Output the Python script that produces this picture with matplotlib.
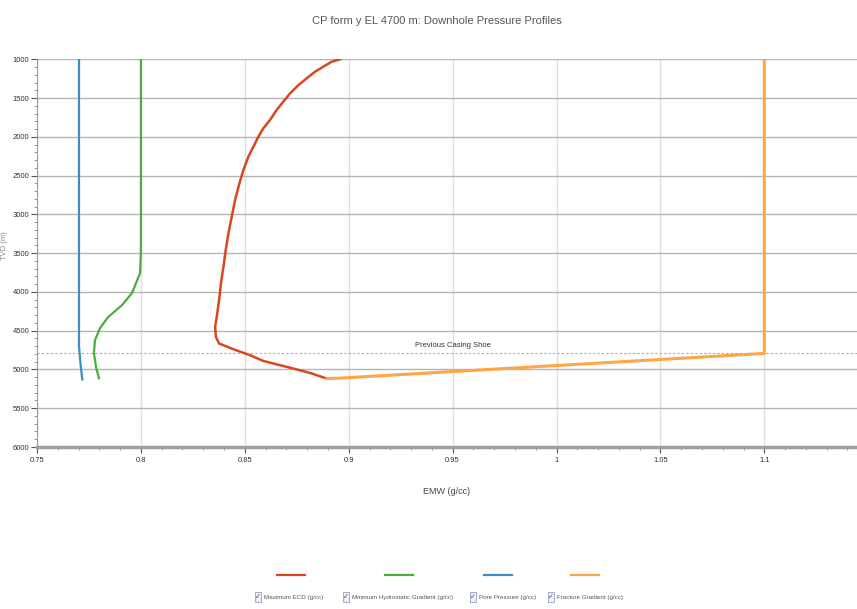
import matplotlib
matplotlib.use("Agg")
from matplotlib import pyplot as plt
from matplotlib.lines import Line2D
from matplotlib.patches import Rectangle
from matplotlib.ticker import MultipleLocator

plt.rcParams["font.family"] = ["Liberation Sans", "DejaVu Sans"]

# depth (m) / gradient (g/cc)
ecdDepth = [1000, 1031, 1095, 1160, 1245, 1332, 1439, 1547, 1654, 1783,
            1891, 1999, 2128, 2257, 2429, 2600, 2816, 3031, 3246, 3461,
            3677, 3891, 4107, 4322, 4451, 4580, 4665, 4739, 4816, 4890,
            4945, 4988, 5045, 5117]
ecdValue = [0.8958, 0.8918, 0.8878, 0.8838, 0.8798, 0.8758, 0.8718, 0.8685,
            0.8653, 0.8621, 0.8589, 0.8565, 0.8541, 0.8517, 0.8493, 0.8474,
            0.8453, 0.8437, 0.8421, 0.8408, 0.8397, 0.8385, 0.8376, 0.8365,
            0.8357, 0.8361, 0.8376, 0.8445, 0.8525, 0.8589, 0.8669, 0.8733,
            0.8814, 0.8894]

hydroDepth = [1000, 3460, 3757, 4015, 4170, 4325, 4467, 4622, 4789, 4970, 5112]
hydroValue = [0.800, 0.800, 0.7996, 0.7957, 0.7909, 0.7842, 0.7803, 0.7779,
              0.7774, 0.7784, 0.7798]

poreDepth = [1000, 4700, 4790, 4950, 5130]
poreValue = [0.7702, 0.7702, 0.7705, 0.7710, 0.7718]

fracDepth = [1000, 4793, 5110, 5118]
fracValue = [1.1, 1.1, 0.897, 0.8895]

shoeDepth = 4793
shoeLabel = "Previous Casing Shoe"

seriesNames = [
    "Maximum ECD (g/cc)",
    "Minimum Hydrostatic Gradient (g/cc)",
    "Pore Pressure (g/cc)",
    "Fracture Gradient (g/cc)",
]
seriesColors = ["#d8481c", "#4aad3e", "#3a8ec6", "#ffa545"]

xTicks = [0.75, 0.8, 0.85, 0.9, 0.95, 1.0, 1.05, 1.1]
xTickLabels = ["0.75", "0.8", "0.85", "0.9", "0.95", "1", "1.05", "1.1"]
yTicks = list(range(1000, 6001, 500))

fig = plt.figure(figsize=(8.57, 6.09), dpi=100)
ax = fig.add_axes([0.0432, 0.266, 0.9568, 0.6366])

ax.plot(poreValue, poreDepth, color=seriesColors[2], lw=1.6)
ax.plot(hydroValue, hydroDepth, color=seriesColors[1], lw=1.6)
ax.plot(ecdValue, ecdDepth, color=seriesColors[0], lw=1.8)
ax.plot(fracValue, fracDepth, color=seriesColors[3], lw=2.2)

ax.axhline(shoeDepth, color="#aaaaaa", lw=0.8, ls=(0, (2, 2)), zorder=1)
ax.text(0.95, shoeDepth - 60, shoeLabel, ha="center", va="bottom",
        fontsize=5.5, color="#333333")

ax.set_xlim(0.75, 1.1446)
ax.set_ylim(6000, 1000)
ax.set_xticks(xTicks)
ax.set_xticklabels(xTickLabels)
ax.set_yticks(yTicks)
ax.set_yticklabels([str(v) for v in yTicks])
ax.xaxis.set_minor_locator(MultipleLocator(0.01))
ax.yaxis.set_minor_locator(MultipleLocator(100))
ax.tick_params(axis="both", which="major", labelsize=5.5, colors="#555555",
               labelcolor="#333333", length=4)
ax.tick_params(axis="y", which="major", pad=1.5)
ax.tick_params(axis="both", which="minor", colors="#888888", length=2)

ax.grid(axis="y", which="major", color="#b5b5b5", lw=1.0, zorder=0)
ax.grid(axis="x", which="major", color="#dedede", lw=1.0, zorder=0)
ax.set_axisbelow(True)

for side in ["top", "right"]:
    ax.spines[side].set_visible(False)
ax.spines["left"].set_color("#999999")
ax.spines["bottom"].set_color("#a0a0a0")
ax.spines["bottom"].set_linewidth(2.5)

ax.set_xlabel("EMW (g/cc)", fontsize=6.5, color="#444444", labelpad=16)
ax.set_ylabel("TVD (m)", fontsize=5.5, color="#888888", va="center")
ax.yaxis.set_label_coords(-0.0395, 0.52)
fig.text(0.51, 0.965, "CP form y EL 4700 m: Downhole Pressure Profiles",
         ha="center", va="center", fontsize=8, color="#555555")

# legend drawn by hand: line sample above, checkbox + label below
legendCenters = [291, 399, 498, 585]
legendLefts = [255, 343, 470, 548]
for name, color, cx, lx in zip(seriesNames, seriesColors, legendCenters, legendLefts):
    fig.add_artist(Line2D([(cx - 14) / 857, (cx + 14) / 857],
                          [1 - 575 / 609, 1 - 575 / 609],
                          color=color, lw=1.6, transform=fig.transFigure))
    fig.add_artist(Rectangle((lx / 857, 1 - 602 / 609), 6 / 857, 10 / 609,
                             transform=fig.transFigure, facecolor="#eef0f8",
                             edgecolor="#9aa0b8", lw=0.6))
    fig.text((lx + 3) / 857, 1 - 597 / 609, "✓", ha="center", va="center",
             fontsize=5, color="#3b3f9a", family="DejaVu Sans")
    fig.text((lx + 9) / 857, 1 - 597 / 609, name, ha="left", va="center",
             fontsize=4.5, color="#555555")

fig.savefig("out.png", dpi=100)
